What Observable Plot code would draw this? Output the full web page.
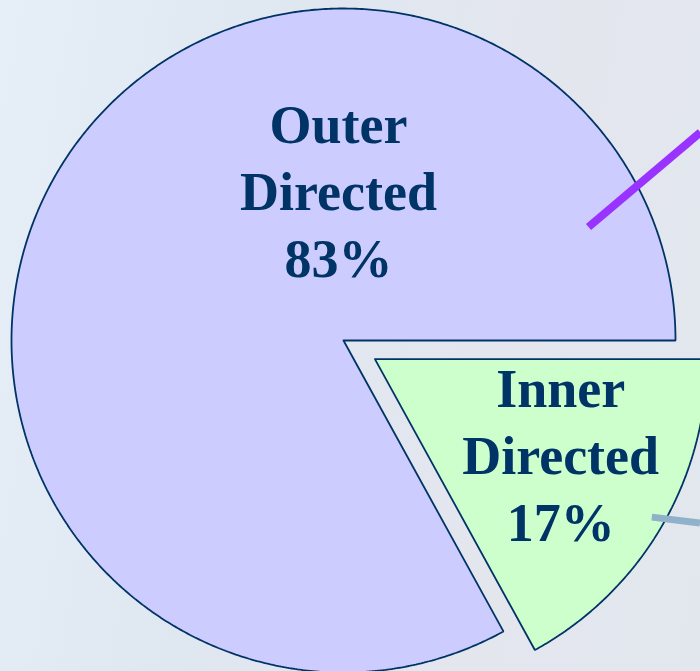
<!DOCTYPE html>
<html>
<head>
<meta charset="utf-8">
<script src="https://cdn.jsdelivr.net/npm/d3@7"></script>
<script src="https://cdn.jsdelivr.net/npm/@observablehq/plot@0.6"></script>
<style>
  html, body { margin: 0; padding: 0; }
  body {
    width: 700px; height: 671px; overflow: hidden;
    background: linear-gradient(100deg, #e6eef7 0%, #dfe7f1 35%, #e4e6ee 70%, #e2e7ee 100%);
  }
  #chart svg { display: block; background: transparent; }
</style>
</head>
<body>
<div id="chart"></div>
<script>
// ---- data ----
const categories = ["Inner Directed", "Outer Directed"];
const shares = [17, 83];                  // percent
const labels = ["Inner\nDirected\n17%", "Outer\nDirected\n83%"];
const fills = ["#ccffcc", "#ccccff"];
const exploded = [true, false];

// leader lines (pie-radius units, relative to each slice's centre)
const leaderPurple = [{x: 0.738, y: 0.342}, {x: 1.075, y: 0.627}];
const leaderSteel = [{x: 0.834, y: -0.476}, {x: 0.979, y: -0.494}];

// ---- layout ----
const W = 700, H = 671;
const R = 332, cx = 343, cy = 340;      // px
const explode = 0.11;                     // in radius units
const labelPos = [{x: 0.654, y: -0.338}, {x: -0.015, y: 0.458}];

const arcs = d3.pie().sort(null).startAngle(Math.PI / 2).endAngle(Math.PI / 2 + 2 * Math.PI)(shares);

const offsets = arcs.map((a, i) => {
  const mid = (a.startAngle + a.endAngle) / 2;
  return exploded[i] ? {x: explode * Math.sin(mid), y: explode * Math.cos(mid)} : {x: 0, y: 0};
});

const slicePts = [];
arcs.forEach((a, i) => {
  const o = offsets[i];
  const n = Math.max(8, Math.ceil((a.endAngle - a.startAngle) * 120));
  slicePts.push({k: categories[i], x: o.x, y: o.y});
  for (let j = 0; j <= n; j++) {
    const t = a.startAngle + (a.endAngle - a.startAngle) * j / n;
    slicePts.push({k: categories[i], x: o.x + Math.sin(t), y: o.y + Math.cos(t)});
  }
  slicePts.push({k: categories[i], x: o.x, y: o.y});
});

const fillOf = Object.fromEntries(categories.map((c, i) => [c, fills[i]]));
const labelData = categories.map((c, i) => ({k: c, text: labels[i], x: labelPos[i].x, y: labelPos[i].y}));
const steelPts = leaderSteel.map(p => ({x: p.x + offsets[0].x, y: p.y + offsets[0].y}));

const plot = Plot.plot({
  width: W, height: H,
  margin: 0,
  style: {background: "transparent"},
  x: {domain: [-cx / R, (W - cx) / R], range: [0, W], axis: null},
  y: {domain: [-(H - cy) / R, cy / R], range: [H, 0], axis: null},
  marks: [
    Plot.line(slicePts, {x: "x", y: "y", z: "k", fill: d => fillOf[d.k], stroke: "#003366", strokeWidth: 1.8, strokeLinejoin: "miter"}),
    Plot.line(leaderPurple, {x: "x", y: "y", stroke: "#9933ff", strokeWidth: 8, strokeLinecap: "butt"}),
    Plot.line(steelPts, {x: "x", y: "y", stroke: "#8fb1c9", strokeWidth: 7, strokeLinecap: "butt"}),
    Plot.text(labelData, {x: "x", y: "y", text: "text", fill: "#003366", fontFamily: "Liberation Serif, Times New Roman, serif", fontWeight: "bold", fontSize: 54, lineHeight: 1.24, textAnchor: "middle"})
  ]
});
document.getElementById("chart").appendChild(plot);
</script>
</body>
</html>
